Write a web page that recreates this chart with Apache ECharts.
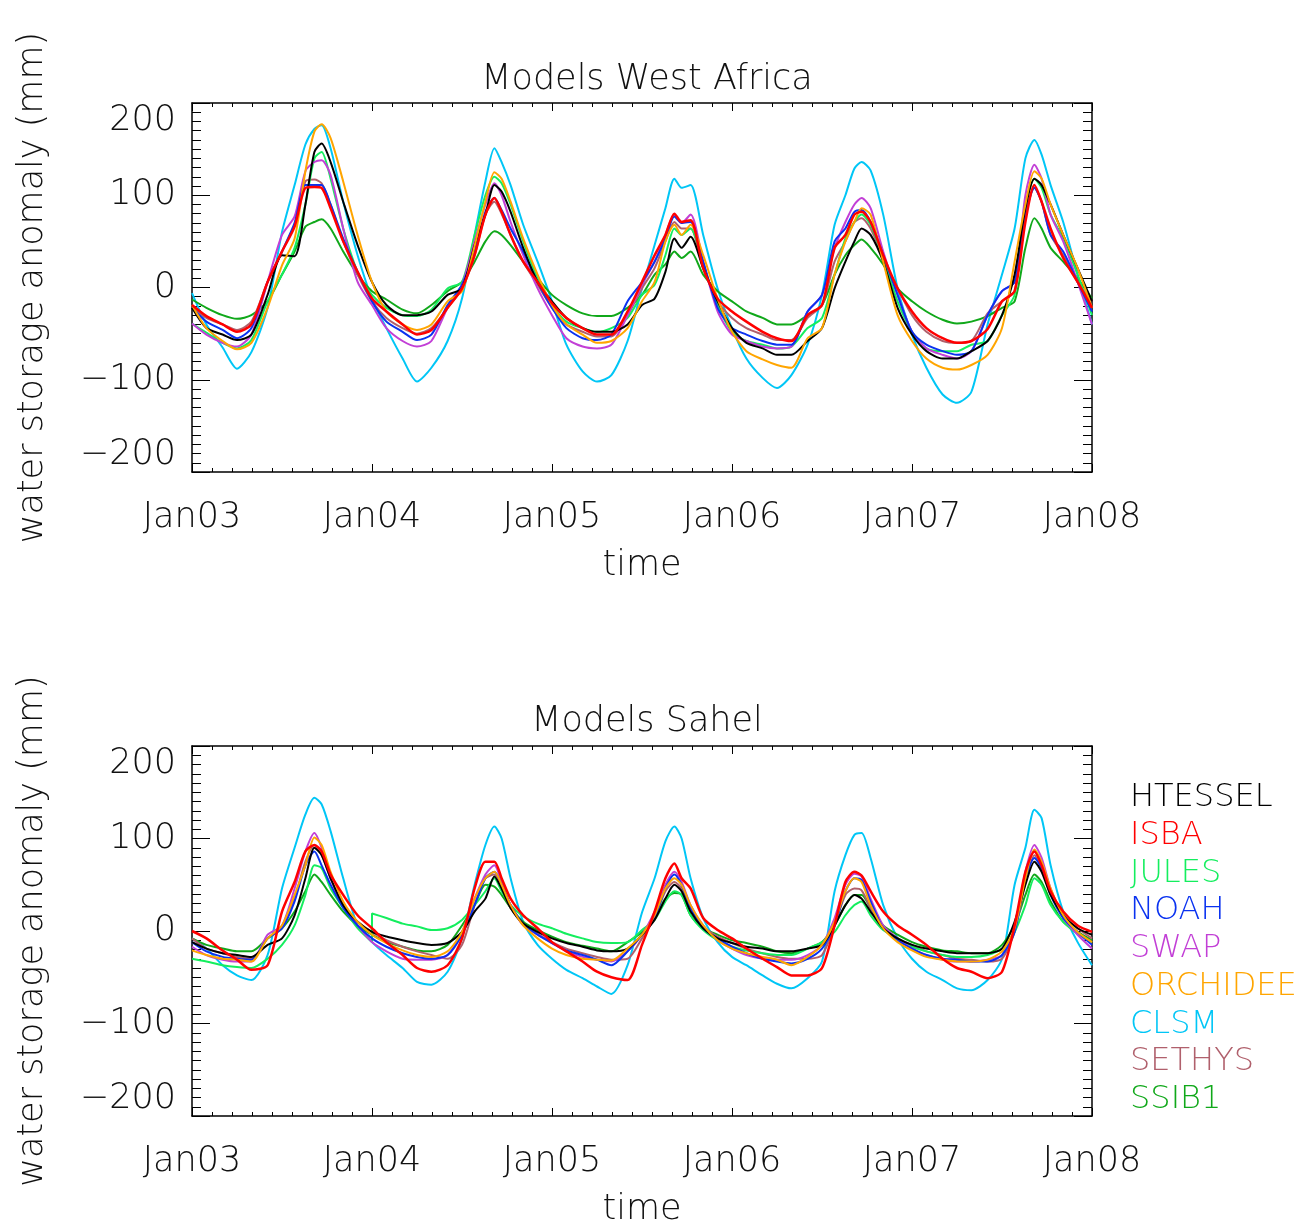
<!DOCTYPE html>
<html lang="en">
<head>
	<meta charset="UTF-8">
	<title>Models West Africa / Sahel</title>
	<style>html,body{margin:0;padding:0;background:#fff;}</style>
</head>
<body>
<div id="chart" style="width:1304px;height:1222px;"></div>
<script src="https://cdn.jsdelivr.net/npm/echarts@6/dist/echarts.min.js"></script>
<script>
// sampling grid: fraction of the year, for each year, plus the final Jan08 point
var yearFrac = [0, .08, .17, .25, .33, .42, .50, .57, .63, .68, .72, .77, .84, .92];
var years = [2003, 2004, 2005, 2006, 2007];
var endYear = 2008;
var yTicks = [-200, -100, 0, 100, 200];

var models = ['HTESSEL', 'ISBA', 'JULES', 'NOAH', 'SWAP', 'ORCHIDEE', 'CLSM', 'SETHYS', 'SSIB1'];
var colors = ['#000000', '#ff0000', '#14ee5e', '#0a32f0', '#c23fd6', '#ffa500', '#00c6f6', '#b0606c', '#10a81a'];

// Models West Africa (mm)
var waHTESSEL = [
	-22, -44, -51, -57, -51, -8, 35, 34, 90, 147, 156, 136, 93, 46,
	6, -19, -30, -30, -26, -8, -1, 46, 79, 111, 104, 82, 43, 6,
	-15, -33, -44, -48, -48, -40, -19, -12, 17, 53, 43, 55, 21, -15,
	-44, -60, -66, -73, -73, -58, -44, -1, 28, 50, 64, 57, 28, -22,
	-51, -69, -77, -77, -69, -58, -30, 14, 86, 118, 111, 90, 57, 21,
	-15];
var waISBA = [
	-19, -31, -40, -48, -40, 6, 39, 66, 108, 109, 108, 86, 50, 17,
	-12, -26, -40, -51, -46, -22, -1, 35, 79, 97, 82, 57, 28, 6,
	-17, -33, -44, -51, -51, -26, 6, 35, 57, 80, 71, 73, 21, -12,
	-26, -37, -48, -55, -58, -30, -19, 43, 57, 79, 82, 71, 35, -1,
	-26, -44, -55, -60, -58, -45, -15, -4, 71, 111, 93, 64, 32, 6,
	-22];
var waJULES = [
	-39, -49, -60, -66, -57, -15, 14, 43, 90, 140, 147, 118, 64, 17,
	-8, -22, -30, -31, -24, -1, 6, 57, 100, 120, 113, 90, 50, 10,
	-19, -37, -44, -48, -44, -33, -8, 3, 35, 64, 57, 64, 25, -19,
	-48, -58, -62, -66, -64, -44, -33, 14, 53, 71, 79, 68, 32, -15,
	-48, -66, -69, -69, -62, -58, -30, -8, 86, 118, 108, 79, 53, 14,
	-30];
var waNOAH = [
	-22, -37, -46, -55, -44, 6, 39, 70, 111, 111, 111, 90, 53, 17,
	-15, -37, -48, -57, -51, -19, 3, 39, 82, 97, 84, 64, 39, 6,
	-22, -44, -55, -57, -51, -15, 6, 28, 53, 77, 70, 71, 28, -22,
	-44, -51, -58, -62, -62, -26, -8, 50, 64, 82, 84, 71, 35, -8,
	-48, -62, -69, -73, -69, -30, -4, 6, 79, 108, 93, 57, 39, 6,
	-26];
var waSWAP = [
	-39, -51, -60, -64, -51, 6, 57, 77, 126, 136, 138, 122, 64, 6,
	-19, -44, -58, -64, -58, -22, 3, 50, 90, 113, 100, 71, 35, -1,
	-30, -55, -64, -66, -62, -30, 3, 28, 57, 79, 70, 79, 28, -26,
	-51, -58, -64, -66, -64, -26, -8, 43, 71, 90, 97, 86, 39, -8,
	-48, -66, -73, -77, -69, -30, -4, 6, 100, 133, 118, 79, 50, 6,
	-40];
var waORCHIDEE = [
	-19, -44, -58, -67, -60, -22, 24, 53, 126, 169, 177, 162, 115, 57,
	6, -26, -40, -46, -40, -15, -4, 45, 93, 125, 118, 93, 53, 14,
	-19, -40, -51, -60, -58, -44, -15, 6, 50, 68, 57, 68, 35, -12,
	-48, -69, -78, -84, -87, -55, -44, 14, 50, 71, 86, 79, 28, -30,
	-58, -77, -87, -89, -84, -73, -44, 28, 90, 126, 118, 90, 57, 21,
	-22];
var waCLSM = [
	-6, -40, -65, -88, -70, -22, 60, 111, 155, 172, 176, 151, 93, 35,
	-12, -44, -77, -102, -87, -58, -12, 57, 115, 151, 136, 111, 68, 28,
	-15, -62, -91, -102, -95, -58, -1, 46, 86, 118, 108, 111, 57, -1,
	-44, -77, -98, -109, -95, -62, -8, 68, 100, 129, 136, 127, 79, -1,
	-51, -87, -116, -125, -113, -40, 14, 64, 140, 160, 144, 111, 71, 14,
	-40];
var waSETHYS = [
	-21, -33, -40, -46, -37, 6, 39, 68, 115, 117, 113, 90, 50, 14,
	-15, -33, -44, -50, -44, -22, -1, 35, 79, 93, 80, 57, 28, 3,
	-22, -40, -48, -53, -53, -30, -1, 21, 50, 71, 64, 64, 21, -15,
	-33, -44, -51, -57, -57, -33, -19, 28, 50, 71, 75, 64, 32, -1,
	-30, -48, -58, -60, -58, -28, -15, -4, 79, 108, 93, 57, 35, 6,
	-15];
var waSSIB1 = [
	-13, -22, -30, -34, -30, -15, 14, 39, 66, 71, 74, 64, 39, 14,
	-4, -13, -24, -28, -19, -4, 6, 28, 50, 61, 57, 46, 28, 10,
	-8, -19, -28, -31, -31, -22, -8, 14, 25, 39, 32, 39, 14, -4,
	-15, -26, -33, -40, -40, -30, -19, 14, 35, 46, 52, 43, 25, -1,
	-15, -26, -35, -39, -37, -31, -22, -15, 43, 75, 64, 43, 28, 10,
	-12];

// Models Sahel (mm)
var shHTESSEL = [
	-12, -19, -24, -26, -28, -15, -8, 17, 57, 90, 82, 57, 28, 10,
	-1, -6, -10, -13, -15, -13, -1, 21, 35, 59, 46, 25, 8, -1,
	-8, -13, -17, -21, -22, -19, -4, 12, 35, 50, 43, 21, 3, -8,
	-13, -17, -19, -22, -22, -19, -15, 6, 28, 39, 35, 21, 3, -8,
	-15, -19, -22, -24, -24, -24, -19, 10, 50, 75, 64, 39, 17, 3,
	-4];
var shISBA = [
	0, -8, -21, -31, -42, -37, 21, 53, 86, 93, 86, 61, 39, 17,
	3, -12, -26, -40, -44, -37, -8, 46, 75, 75, 57, 35, 17, 3,
	-12, -22, -33, -44, -50, -53, -15, 21, 57, 73, 57, 46, 14, 1,
	-8, -19, -30, -39, -48, -48, -40, 6, 53, 64, 60, 43, 21, 6,
	-4, -15, -30, -40, -44, -51, -44, 6, 64, 86, 71, 43, 21, 6,
	-1];
var shJULES = [
	-30, -33, -37, -39, -40, -30, -15, 6, 39, 71, 68, 46, 25, 3,
	19, 14, 8, 5, 1, 3, 12, 28, 43, 57, 43, 28, 16, 8,
	3, -3, -8, -12, -13, -12, 1, 12, 32, 43, 39, 17, 1, -10,
	-17, -21, -24, -26, -26, -19, -12, -1, 17, 28, 32, 17, 1, -8,
	-17, -22, -26, -28, -28, -26, -19, -1, 28, 57, 50, 28, 10, -3,
	-12];
var shJULESJump = { t: 2004, before: -12 }; // JULES restarts at Jan04
var shNOAH = [
	-12, -22, -28, -30, -31, -8, 3, 32, 71, 86, 71, 50, 25, 6,
	-8, -17, -24, -28, -30, -26, -4, 28, 57, 64, 50, 28, 8, -4,
	-13, -21, -26, -31, -37, -22, -4, 14, 46, 61, 50, 25, 3, -8,
	-17, -24, -30, -33, -35, -30, -19, 6, 43, 57, 55, 32, 3, -10,
	-19, -26, -30, -31, -33, -33, -26, -1, 57, 79, 68, 39, 14, -1,
	-15];
var shSWAP = [
	-17, -26, -31, -33, -33, -4, 6, 46, 86, 106, 90, 57, 28, 6,
	-12, -22, -30, -31, -31, -26, -1, 35, 61, 71, 53, 28, 6, -4,
	-13, -22, -28, -31, -33, -22, -4, 21, 50, 64, 53, 28, 6, -10,
	-19, -26, -30, -31, -31, -26, -15, 14, 50, 62, 59, 35, 6, -8,
	-19, -26, -31, -33, -33, -31, -26, 3, 64, 93, 79, 46, 14, -4,
	-19];
var shORCHIDEE = [
	-21, -26, -30, -31, -33, -8, 6, 39, 71, 101, 93, 64, 32, 10,
	-4, -13, -21, -26, -28, -22, -1, 35, 57, 64, 50, 28, 6, -8,
	-19, -26, -30, -31, -32, -19, -4, 17, 46, 57, 50, 28, 6, -10,
	-19, -24, -28, -31, -37, -28, -15, 10, 43, 57, 53, 28, 3, -12,
	-21, -28, -31, -33, -33, -31, -22, 3, 57, 88, 75, 46, 17, -1,
	-12];
var shCLSM = [
	-8, -19, -37, -48, -53, -26, 46, 90, 126, 144, 137, 108, 57, 6,
	-12, -26, -40, -55, -58, -44, -8, 50, 93, 113, 100, 57, 10, -15,
	-30, -42, -51, -60, -68, -37, 20, 57, 97, 113, 100, 57, 14, -12,
	-28, -37, -48, -57, -62, -51, -33, 43, 82, 104, 106, 79, 28, -8,
	-30, -44, -53, -62, -64, -53, -30, 50, 90, 131, 122, 71, 21, -12,
	-37];
var shSETHYS = [
	-8, -19, -24, -28, -30, -8, 3, 35, 75, 93, 82, 57, 28, 10,
	-1, -10, -17, -22, -26, -30, -15, 28, 57, 61, 46, 25, 8, -3,
	-12, -19, -24, -28, -31, -30, -8, 14, 43, 53, 46, 25, 5, -6,
	-13, -19, -24, -28, -30, -30, -26, 6, 39, 46, 44, 25, 5, -8,
	-15, -22, -26, -30, -31, -33, -30, -1, 52, 82, 68, 43, 17, 3,
	-8];
var shSSIB1 = [
	-8, -15, -19, -22, -22, -8, 3, 21, 43, 61, 53, 39, 21, 6,
	-4, -12, -17, -21, -22, -15, 6, 28, 50, 48, 39, 25, 10, 1,
	-6, -12, -16, -19, -22, -12, -1, 14, 35, 41, 39, 17, 3, -4,
	-10, -13, -17, -22, -24, -19, -12, 6, 28, 39, 39, 25, 6, -4,
	-12, -17, -21, -22, -24, -24, -15, 6, 39, 61, 53, 32, 10, -1,
	-10];

var waData = [waHTESSEL, waISBA, waJULES, waNOAH, waSWAP, waORCHIDEE, waCLSM, waSETHYS, waSSIB1];
var shData = [shHTESSEL, shISBA, shJULES, shNOAH, shSWAP, shORCHIDEE, shCLSM, shSETHYS, shSSIB1];

var times = [];
years.forEach(function(y){ yearFrac.forEach(function(f){ times.push(y + f); }); });
times.push(endYear);

function pairs(vals){
	return times.map(function(t, i){ return [t, vals[i]]; });
}

var FONT = 'DejaVu Sans';
var FS = 35;
var txt = '#111';
var textStyle = { fontSize: FS, fontFamily: FONT, fontWeight: 200, color: txt };

function xAxes(grid){
	var base = {
		gridIndex: grid, type: 'value', min: 2003, max: 2008, interval: 1,
		axisLine: { onZero: false, lineStyle: { color: '#000', width: 1.5 } },
		axisTick: { inside: true, length: 8, lineStyle: { color: '#000', width: 1 } },
		minorTick: { show: true, splitNumber: 9, length: 4, lineStyle: { color: '#000', width: 1 } },
		splitLine: { show: false }
	};
	var bottom = Object.assign({}, base, {
		position: 'bottom',
		axisLabel: Object.assign({ margin: 28, formatter: function(v){ return 'Jan' + String(v).slice(2); } }, textStyle),
		name: 'time', nameLocation: 'middle', nameGap: 76,
		nameTextStyle: textStyle
	});
	var top = Object.assign({}, base, { position: 'top', axisLabel: { show: false } });
	return [bottom, top];
}

function yAxes(grid){
	var base = {
		gridIndex: grid, type: 'value', min: yTicks[0], max: yTicks[yTicks.length - 1], interval: 100,
		axisLine: { onZero: false, lineStyle: { color: '#000', width: 1.5 } },
		axisTick: { inside: true, length: 18, lineStyle: { color: '#000', width: 1 } },
		minorTick: { show: true, splitNumber: 10, length: 9, lineStyle: { color: '#000', width: 1 } },
		splitLine: { show: false }
	};
	var left = Object.assign({}, base, {
		position: 'left',
		axisLabel: Object.assign({
			margin: 16,
			verticalAlignMaxLabel: 'top', verticalAlignMinLabel: 'bottom',
			formatter: function(v){ return String(v).replace('-', '\u2212'); }
		}, textStyle),
		name: 'water storage anomaly (mm)', nameLocation: 'middle', nameGap: 142,
		nameTextStyle: textStyle
	});
	var right = Object.assign({}, base, { position: 'right', axisLabel: { show: false } });
	return [left, right];
}

// draw order: CLSM under the others, ISBA on top
var drawOrder = [6, 8, 7, 2, 4, 3, 0, 5, 1];
var series = [];
[waData, shData].forEach(function(panel, p){
	drawOrder.forEach(function(k){
		var data = pairs(panel[k]);
		if (p === 1 && models[k] === 'JULES') {
			var idx = times.indexOf(shJULESJump.t);
			data.splice(idx, 0, [shJULESJump.t, shJULESJump.before]);
		}
		series.push({
			name: models[k], type: 'line', xAxisIndex: p * 2, yAxisIndex: p * 2,
			data: data, showSymbol: false, symbol: 'none', smooth: 0.25,
			lineStyle: { color: colors[k], width: models[k] === 'ISBA' ? 2.5 : 2 },
			itemStyle: { color: colors[k] },
			z: 2
		});
	});
});

var myChart = echarts.init(document.getElementById('chart'));
var option = {
	backgroundColor: '#fff',
	animation: false,
	title: [
		{ text: 'Models West Africa', left: 642, textAlign: 'center', top: 57, textStyle: textStyle },
		{ text: 'Models Sahel', left: 642, textAlign: 'center', top: 699, textStyle: textStyle }
	],
	legend: {
		orient: 'vertical', left: 1120, top: 777,
		icon: 'none', itemWidth: 0, itemHeight: 0, itemGap: 5.7,
		selectedMode: false,
		textStyle: { fontSize: 32, fontFamily: FONT, fontWeight: 200 },
		data: models.map(function(m, i){ return { name: m, textStyle: { color: colors[i] } }; })
	},
	grid: [
		{ left: 192, top: 103, width: 900, height: 369, outerBoundsMode: 'none' },
		{ left: 192, top: 746, width: 900, height: 370, outerBoundsMode: 'none' }
	],
	xAxis: xAxes(0).concat(xAxes(1)),
	yAxis: yAxes(0).concat(yAxes(1)),
	series: series
};
myChart.setOption(option);
</script>
</body>
</html>
